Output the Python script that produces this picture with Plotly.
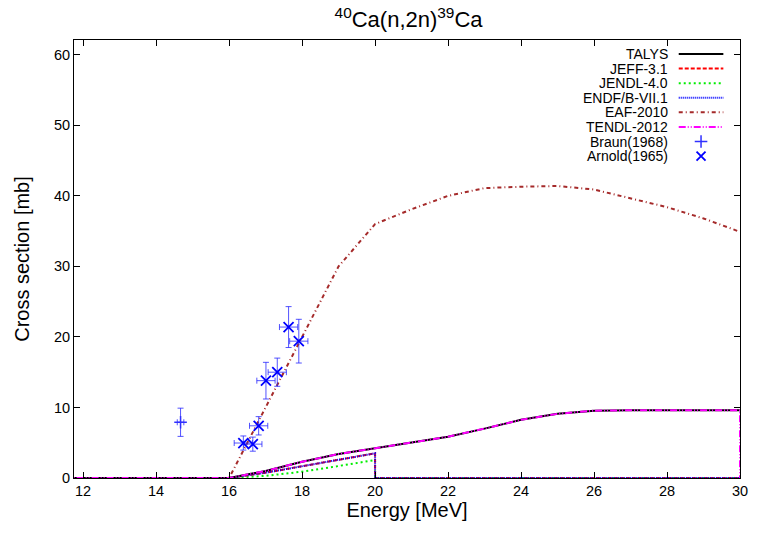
import plotly.graph_objects as go

# ---------------- data ----------------
talys_x = [11.0, 16.0, 17.0, 18.0, 19.0, 20.0, 21.0, 22.0, 23.0, 24.0, 25.0, 26.0, 27.0, 28.0, 29.0, 30.0]
talys_y = [0.0, 0.0, 1.0, 2.3, 3.4, 4.2, 4.95, 5.85, 7.0, 8.25, 9.1, 9.55, 9.6, 9.6, 9.6, 9.6]

jeff_x = [11.0, 16.0, 17.0, 18.0, 19.0, 20.0, 20.0, 30.0]
jeff_y = [0.0, 0.0, 0.75, 1.65, 2.6, 3.5, 0.0, 0.0]

jendl_x = [11.0, 16.0, 17.0, 18.0, 19.0, 20.0, 20.0, 30.0]
jendl_y = [0.0, 0.0, 0.3, 0.9, 1.7, 2.55, 0.0, 0.0]

endf_x = [11.0, 16.0, 17.0, 18.0, 19.0, 20.0, 20.0, 30.0]
endf_y = [0.0, 0.0, 0.75, 1.65, 2.6, 3.5, 0.0, 0.0]

eaf_x = [11.0, 16.0, 17.0, 18.0, 19.0, 20.0, 21.0, 22.0, 23.0, 24.0, 25.0, 26.0, 27.0, 28.0, 29.0, 30.0]
eaf_y = [0.0, 0.0, 10.0, 20.0, 30.0, 36.0, 38.1, 40.0, 41.1, 41.3, 41.4, 40.9, 39.7, 38.4, 36.8, 34.9]

tendl_x = [11.0, 16.0, 17.0, 18.0, 19.0, 20.0, 21.0, 22.0, 23.0, 24.0, 25.0, 26.0, 27.0, 28.0, 29.0, 30.0, 30.0]
tendl_y = [0.0, 0.0, 1.0, 2.3, 3.4, 4.2, 4.95, 5.85, 7.0, 8.25, 9.1, 9.55, 9.6, 9.6, 9.6, 9.6, 0.0]

braun_x = [14.67]
braun_y = [7.9]
braun_dx = [0.09]
braun_dy = [2.0]

arnold_x = [16.39, 16.65, 16.81, 17.01, 17.32, 17.63, 17.91]
arnold_y = [4.96, 4.8, 7.4, 13.8, 15.0, 21.4, 19.4]
arnold_dx = [0.25, 0.25, 0.25, 0.25, 0.25, 0.25, 0.25]
arnold_dy = [1.0, 1.0, 1.3, 2.6, 2.0, 2.9, 3.1]

x_ticks = [12, 14, 16, 18, 20, 22, 24, 26, 28, 30]
y_ticks = [0, 10, 20, 30, 40, 50, 60]

labels = ["TALYS", "JEFF-3.1", "JENDL-4.0", "ENDF/B-VII.1", "EAF-2010", "TENDL-2012",
          "Braun(1968)", "Arnold(1965)"]

FONT = "Liberation Sans, Arial, sans-serif"

styles = [
    dict(color="black", width=2, dash="solid"),
    dict(color="#ff0000", width=2, dash="4px,2px"),
    dict(color="#00ee00", width=2, dash="2px,3px"),
    dict(color="#0000ff", width=2, dash="1px,1px"),
    dict(color="#a52a2a", width=2, dash="4px,3px,1px,3px"),
    dict(color="#ff00ff", width=2, dash="7px,2px,1px,2px,1px,2px"),
]

series = [(talys_x, talys_y), (jeff_x, jeff_y), (jendl_x, jendl_y),
          (endf_x, endf_y), (eaf_x, eaf_y), (tendl_x, tendl_y)]

fig = go.Figure()

order = [4, 2, 1, 3, 0, 5]
for i in order:
    xs, ys = series[i]
    fig.add_trace(go.Scatter(x=xs, y=ys, mode="lines", line=styles[i],
                             name=labels[i], showlegend=False, hoverinfo="skip"))

err_color = "rgba(40,40,255,0.8)"
fig.add_trace(go.Scatter(
    x=braun_x, y=braun_y, mode="markers", showlegend=False,
    marker=dict(symbol="cross-thin", size=9, line=dict(color="#3030ff", width=1.5)),
    error_x=dict(type="data", array=braun_dx, color=err_color, thickness=1, width=3),
    error_y=dict(type="data", array=braun_dy, color=err_color, thickness=1, width=3),
))
fig.add_trace(go.Scatter(
    x=arnold_x, y=arnold_y, mode="markers", showlegend=False,
    marker=dict(symbol="x-thin", size=10, line=dict(color="#0000ff", width=1.8)),
    error_x=dict(type="data", array=arnold_dx, color=err_color, thickness=1, width=3),
    error_y=dict(type="data", array=arnold_dy, color=err_color, thickness=1, width=3),
))

# ---------------- custom legend (gnuplot style: text left of sample) ----------------
row0 = 0.968
step = 0.0333
x_text = 0.895
x_s0, x_s1 = 0.908, 0.975
for k, lab in enumerate(labels):
    yk = row0 - k * step
    fig.add_annotation(x=x_text, y=yk, xref="paper", yref="paper", text=lab,
                       showarrow=False, xanchor="right", yanchor="middle",
                       font=dict(family=FONT, size=14, color="black"))
    if k < 6:
        fig.add_trace(go.Scatter(x=[x_s0, x_s1], y=[yk, yk], mode="lines", line=styles[k],
                                 xaxis="x2", yaxis="y2", showlegend=False, hoverinfo="skip"))
    elif k == 6:
        fig.add_trace(go.Scatter(x=[(x_s0 + x_s1) / 2], y=[yk], mode="markers",
                                 marker=dict(symbol="cross-thin", size=9, line=dict(color="#3030ff", width=1.5)),
                                 xaxis="x2", yaxis="y2", showlegend=False, hoverinfo="skip"))
    else:
        fig.add_trace(go.Scatter(x=[(x_s0 + x_s1) / 2], y=[yk], mode="markers",
                                 marker=dict(symbol="x-thin", size=9, line=dict(color="#0000ff", width=1.8)),
                                 xaxis="x2", yaxis="y2", showlegend=False, hoverinfo="skip"))

axis_common = dict(showline=True, linecolor="black", linewidth=1, mirror="allticks",
                   ticks="inside", ticklen=6, tickcolor="black", tickwidth=1,
                   showgrid=False, zeroline=False,
                   tickfont=dict(family=FONT, size=14.5, color="black"))

fig.update_layout(
    width=768, height=533,
    margin=dict(l=74, r=28, t=40, b=55),
    paper_bgcolor="white", plot_bgcolor="white",
    title=dict(text="<sup>40</sup>Ca(n,2n)<sup>39</sup>Ca", x=0.532, xanchor="center",
               y=0.963, yanchor="middle",
               font=dict(family=FONT, size=22, color="black")),
    xaxis=dict(range=[11.75, 30], tickvals=x_ticks, ticktext=[str(v) for v in x_ticks],
               title=dict(text="Energy [MeV]", font=dict(family=FONT, size=20, color="black"), standoff=3),
               **axis_common),
    yaxis=dict(range=[0, 62.1], tickvals=y_ticks, ticktext=[str(v) for v in y_ticks],
               title=dict(text="Cross section [mb]", font=dict(family=FONT, size=20, color="black"), standoff=18),
               **axis_common),
    xaxis2=dict(range=[0, 1], domain=[0, 1], overlaying="x", visible=False, fixedrange=True),
    yaxis2=dict(range=[0, 1], domain=[0, 1], overlaying="y", visible=False, fixedrange=True),
    showlegend=False,
)

fig.write_html("out.html")
